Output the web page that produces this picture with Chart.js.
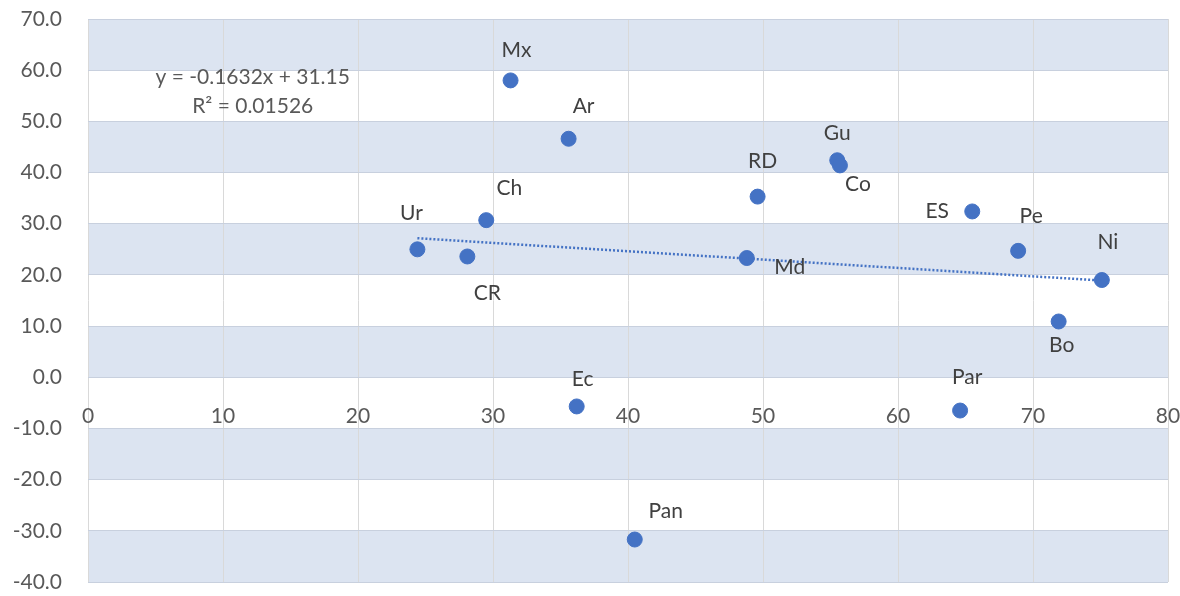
<!DOCTYPE html>
<html>
<head>
<meta charset="utf-8">
<script src="https://cdn.jsdelivr.net/npm/chart.js@4/dist/chart.umd.min.js"></script>
<style>
  html, body { margin: 0; padding: 0; background: #fff; }
  #wrap { width: 1180px; height: 596px; }
</style>
</head>
<body>
<div id="wrap"><canvas id="myScatter"></canvas></div>
<script>
// country codes and their x / y values
var countries = ["Mx","Ar","RD","Ch","Ur","CR","Md","Gu","Co","ES","Pe","Ni","Bo","Par","Ec","Pan"];
var xValues   = [31.3, 35.6, 49.6, 29.5, 24.4, 28.1, 48.8, 55.5, 55.7, 65.5, 68.9, 75.1, 71.9, 64.6, 36.2, 40.5];
var yValues   = [58.0, 46.6, 35.3, 30.7, 25.0, 23.6, 23.3, 42.4, 41.4, 32.4, 24.7, 19.0, 10.9, -6.5, -5.7, -31.7];

// linear trend as printed on the chart
var slope = -0.1632;
var intercept = 31.15;
var rSquared = "0.01526";

var xTicks = [0, 10, 20, 30, 40, 50, 60, 70, 80];
var yTicks = [-40, -30, -20, -10, 0, 10, 20, 30, 40, 50, 60, 70];

// where each name sits relative to its dot (pixels)
var labelOffsets = [[6,-30],[15,-33],[5,-35],[23,-32],[-6,-36],[20,37],[43,9],[0,-27],[18,19],[-35,0],[13,-35],[6,-38],[3,24],[7,-33],[6,-27],[31,-28]];

var points = [];
for (var i = 0; i < countries.length; i++) {
    points.push({x: xValues[i], y: yValues[i]});
}
var xmin = Math.min.apply(null, xValues);
var xmax = Math.max.apply(null, xValues);
var trend = [
    {x: xmin, y: slope * xmin + intercept},
    {x: xmax, y: slope * xmax + intercept}
];

var FONT = "Lato, 'Open Sans', sans-serif";
var FSIZE = 21;
var BLUE = "rgb(68,114,196)";

var bandPlugin = {
    id: 'bands',
    beforeDraw: function(chart){
        var ctx = chart.ctx;
        var area = chart.chartArea;
        var ys = chart.scales.y;
        ctx.save();
        ctx.fillStyle = "rgb(220,228,241)";
        for (var k = 0; k < yTicks.length - 1; k += 2) {
            var top = ys.getPixelForValue(yTicks[k + 1]);
            var bot = ys.getPixelForValue(yTicks[k]);
            ctx.fillRect(area.left, top, area.right - area.left, bot - top);
        }
        ctx.restore();
    }
};

var labelPlugin = {
    id: 'pointLabels',
    afterDatasetsDraw: function(chart){
        var ctx = chart.ctx;
        var meta = chart.getDatasetMeta(1);
        ctx.save();
        ctx.font = FSIZE + "px " + FONT;
        ctx.fillStyle = "#404040";
        ctx.textAlign = "center";
        ctx.textBaseline = "middle";
        meta.data.forEach(function(pt, idx){
            var off = labelOffsets[idx];
            ctx.fillText(countries[idx], pt.x + off[0], pt.y + off[1]);
        });
        // trend equation
        var xs = chart.scales.x, ys = chart.scales.y;
        ctx.fillStyle = "#595959";
        var ex = xs.getPixelForValue(12.2);
        ctx.fillText("y = " + slope + "x + " + intercept, ex, ys.getPixelForValue(58.7));
        ctx.fillText("R\u00B2 = " + rSquared, ex, ys.getPixelForValue(52.9));
        ctx.restore();
    }
};

var ctx = document.getElementById("myScatter");
var chart = new Chart(ctx, {
    type: 'scatter',
    data: {
        datasets: [{
            label: 'trend',
            type: 'line',
            data: trend,
            borderColor: BLUE,
            borderWidth: 2.5,
            borderDash: [2, 2],
            pointRadius: 0,
            fill: false
        }, {
            label: 'countries',
            data: points,
            backgroundColor: BLUE,
            borderColor: BLUE,
            pointRadius: 7.5,
            pointHoverRadius: 7.5
        }]
    },
    options: {
        responsive: true,
        maintainAspectRatio: false,
        animation: false,
        layout: { padding: { top: 19, right: 12, bottom: 14, left: 0 } },
        plugins: {
            legend: { display: false },
            tooltip: { enabled: false }
        },
        scales: {
            x: {
                type: 'linear',
                min: 0,
                max: 80,
                position: { y: 0 },
                border: { display: false },
                grid: { color: "rgb(217,217,217)", drawTicks: false },
                afterBuildTicks: function(s){ s.ticks = xTicks.map(function(v){ return {value: v}; }); },
                afterFit: function(s){
                    s.height = 0;
                    s.paddingLeft = 0; s.paddingRight = 0;
                    s.paddingTop = 0; s.paddingBottom = 0;
                },
                ticks: {
                    padding: 26,
                    maxRotation: 0,
                    color: "#595959",
                    font: { family: FONT, size: FSIZE }
                }
            },
            y: {
                min: -40,
                max: 70,
                border: { display: false },
                grid: { color: "rgb(200,208,222)", drawTicks: false },
                afterBuildTicks: function(s){ s.ticks = yTicks.map(function(v){ return {value: v}; }); },
                afterFit: function(s){
                    s.width = 88;
                    s.paddingTop = 0; s.paddingBottom = 0;
                },
                ticks: {
                    padding: 26,
                    color: "#595959",
                    font: { family: FONT, size: FSIZE },
                    callback: function(value){ return value.toFixed(1); }
                }
            }
        }
    },
    plugins: [bandPlugin, labelPlugin]
});
</script>
</body>
</html>
